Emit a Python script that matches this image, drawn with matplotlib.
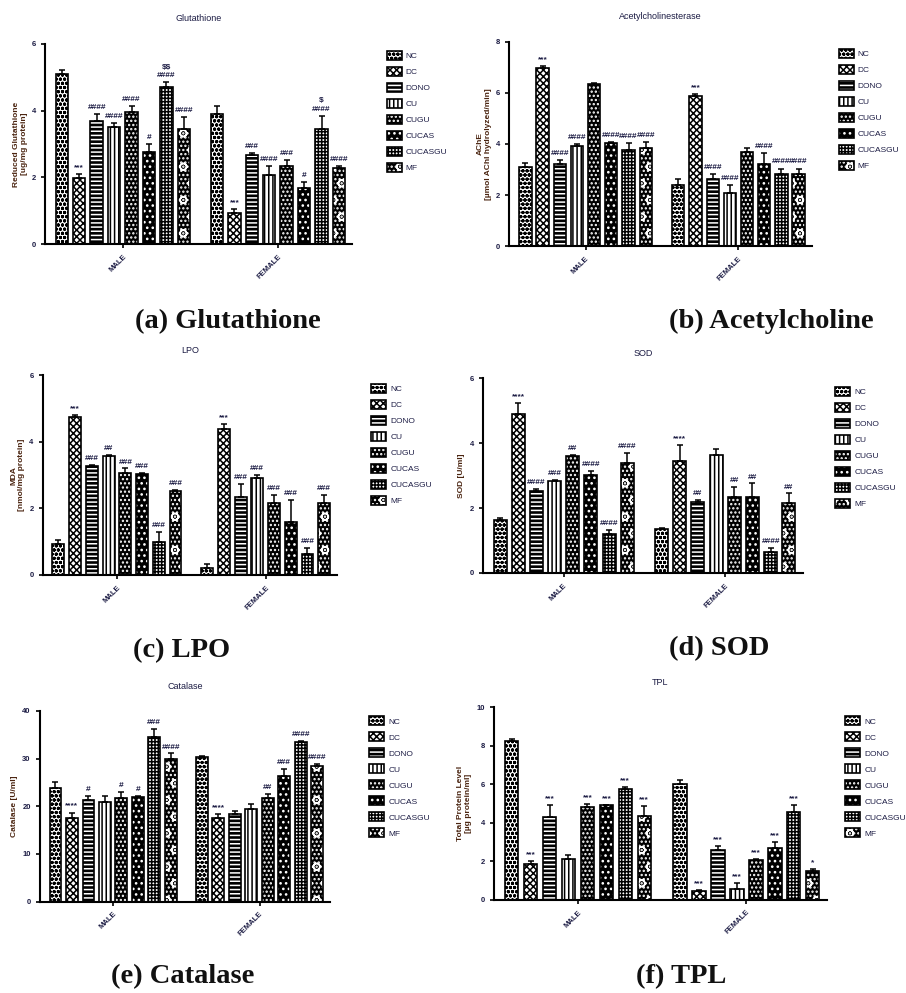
import matplotlib
matplotlib.use('Agg')
from matplotlib import pyplot as plt
from matplotlib.patches import Patch

groups = ['NC', 'DC', 'DONO', 'CU', 'CUGU', 'CUCAS', 'CUCASGU', 'MF']
sexes = ['MALE', 'FEMALE']

# (a) Glutathione
gsh_male = [5.1, 1.97, 3.7, 3.52, 3.95, 2.77, 4.7, 3.45]
gsh_male_err = [0.12, 0.12, 0.2, 0.12, 0.2, 0.24, 0.15, 0.37]
gsh_female = [3.9, 0.93, 2.66, 2.08, 2.33, 1.67, 3.46, 2.28]
gsh_female_err = [0.23, 0.13, 0.06, 0.25, 0.2, 0.18, 0.39, 0.05]
gsh_male_sig = ['', '***', '####', '####', '####', '#', '$$\n####', '####']
gsh_female_sig = ['', '***', '###', '####', '###', '#', '$\n####', '####']

# (b) Acetylcholinesterase
ache_male = [3.1, 6.99, 3.21, 3.91, 6.33, 4.03, 3.78, 3.85]
ache_male_err = [0.17, 0.05, 0.15, 0.08, 0.07, 0.05, 0.24, 0.23]
ache_female = [2.38, 5.89, 2.64, 2.08, 3.69, 3.21, 2.81, 2.81]
ache_female_err = [0.26, 0.05, 0.17, 0.33, 0.16, 0.42, 0.23, 0.23]
ache_male_sig = ['', '***', '####', '####', '', '####', '####', '####']
ache_female_sig = ['', '***', '####', '####', '', '####', '####', '####']

# (c) LPO
lpo_male = [0.93, 4.75, 3.27, 3.57, 3.07, 3.02, 1.0, 2.52]
lpo_male_err = [0.12, 0.05, 0.04, 0.05, 0.13, 0.05, 0.3, 0.03]
lpo_female = [0.2, 4.4, 2.33, 2.9, 2.15, 1.58, 0.63, 2.15]
lpo_female_err = [0.13, 0.13, 0.39, 0.1, 0.25, 0.67, 0.17, 0.25]
lpo_male_sig = ['', '***', '###', '##', '###', '###', '###', '###']
lpo_female_sig = ['', '***', '###', '###', '###', '###', '###', '###']

# (d) SOD
sod_male = [1.64, 4.89, 2.53, 2.83, 3.6, 3.02, 1.2, 3.39]
sod_male_err = [0.05, 0.36, 0.05, 0.04, 0.04, 0.12, 0.13, 0.31]
sod_female = [1.35, 3.46, 2.2, 3.63, 2.33, 2.33, 0.64, 2.15]
sod_female_err = [0.03, 0.48, 0.05, 0.2, 0.33, 0.43, 0.13, 0.3]
sod_male_sig = ['', '****', '####', '###', '##', '####', '####', '####']
sod_female_sig = ['', '****', '##', '', '##', '##', '####', '##']

# (e) Catalase
cat_male = [23.9, 17.5, 21.3, 21.0, 21.7, 21.9, 34.5, 29.9]
cat_male_err = [1.3, 1.2, 0.9, 1.2, 1.4, 0.3, 1.7, 1.2]
cat_female = [30.3, 17.6, 18.3, 19.4, 21.7, 26.4, 33.4, 28.5]
cat_female_err = [0.3, 0.8, 0.8, 1.1, 0.9, 1.4, 0.3, 0.4]
cat_male_sig = ['', '****', '#', '', '#', '#', '###', '####']
cat_female_sig = ['', '****', '', '', '##', '###', '####', '####']

# (f) TPL
tpl_male = [8.25, 1.85, 4.27, 2.13, 4.79, 4.9, 5.76, 4.36]
tpl_male_err = [0.09, 0.17, 0.63, 0.21, 0.19, 0.03, 0.07, 0.52]
tpl_female = [6.02, 0.47, 2.56, 0.55, 2.08, 2.68, 4.55, 1.5]
tpl_female_err = [0.21, 0.05, 0.21, 0.32, 0.05, 0.3, 0.35, 0.09]
tpl_male_sig = ['', '***', '***', '', '***', '***', '***', '***']
tpl_female_sig = ['', '***', '***', '***', '***', '***', '***', '*']

# fill / hatch per group
styles = [('white', 'oooo'), ('white', 'xxxxx'), ('black', '----'), ('white', '||||'),
          ('black', '....'), ('black', '...'), ('white', '+++++'), ('black', 'o....')]

plt.rcParams['font.family'] = ['Liberation Sans', 'DejaVu Sans']
plt.rcParams['hatch.linewidth'] = 1.1
plt.rcParams['text.parse_math'] = False

fig = plt.figure(figsize=(9.06, 9.93), dpi=100)

panels = [
    dict(rect=[0.050, 0.754, 0.339, 0.202], title='Glutathione',
         ylabel='Reduced Glutathione\n[ug/mg protein]', ymax=6, step=2,
         data=(gsh_male, gsh_male_err, gsh_female, gsh_female_err, gsh_male_sig, gsh_female_sig),
         leg=(0.423, 0.952), cap='(a) Glutathione', capxy=(0.252, 0.670)),
    dict(rect=[0.562, 0.752, 0.334, 0.206], title='Acetylcholinesterase',
         ylabel='AChE\n[µmol AChI hydrolyzed/min]', ymax=8, step=2,
         data=(ache_male, ache_male_err, ache_female, ache_female_err, ache_male_sig, ache_female_sig),
         leg=(0.922, 0.954), cap='(b) Acetylcholine', capxy=(0.851, 0.670)),
    dict(rect=[0.047, 0.421, 0.325, 0.201], title='LPO',
         ylabel='MDA\n[nmol/mg protein]', ymax=6, step=2,
         data=(lpo_male, lpo_male_err, lpo_female, lpo_female_err, lpo_male_sig, lpo_female_sig),
         leg=(0.406, 0.617), cap='(c) LPO', capxy=(0.200, 0.338)),
    dict(rect=[0.533, 0.423, 0.353, 0.196], title='SOD',
         ylabel='SOD [U/ml]', ymax=6, step=2,
         data=(sod_male, sod_male_err, sod_female, sod_female_err, sod_male_sig, sod_female_sig),
         leg=(0.918, 0.614), cap='(d) SOD', capxy=(0.794, 0.340)),
    dict(rect=[0.044, 0.092, 0.320, 0.192], title='Catalase',
         ylabel='Catalase [U/ml]', ymax=40, step=10,
         data=(cat_male, cat_male_err, cat_female, cat_female_err, cat_male_sig, cat_female_sig),
         leg=(0.404, 0.282), cap='(e) Catalase', capxy=(0.202, 0.010)),
    dict(rect=[0.545, 0.094, 0.368, 0.194], title='TPL',
         ylabel='Total Protein Level\n[µg protein/ml]', ymax=10, step=2,
         data=(tpl_male, tpl_male_err, tpl_female, tpl_female_err, tpl_male_sig, tpl_female_sig),
         leg=(0.929, 0.282), cap='(f) TPL', capxy=(0.752, 0.010)),
]

slot = 0.1125
bw = 0.08
navy = '#1c1c44'


def bar_handle(face, hatch):
    if face == 'black':
        return (Patch(facecolor='black', edgecolor='white', hatch=hatch, linewidth=0),
                Patch(fill=False, edgecolor='black', linewidth=1.2))
    return Patch(facecolor='white', edgecolor='black', hatch=hatch, linewidth=1.2)


for p in panels:
    ax = fig.add_axes(p['rect'])
    male, male_err, female, female_err, msig, fsig = p['data']
    for gi, (vals, errs, sigs) in enumerate([(male, male_err, msig), (female, female_err, fsig)]):
        for i in range(len(groups)):
            x = gi + (i - 3.5) * slot
            face, hatch = styles[i]
            if face == 'black':
                ax.bar(x, vals[i], bw, color='black', edgecolor='white', hatch=hatch, linewidth=0)
                ax.bar(x, vals[i], bw, fill=False, edgecolor='black', linewidth=1.2)
            else:
                ax.bar(x, vals[i], bw, color='white', edgecolor='black', hatch=hatch, linewidth=1.2)
            ax.errorbar(x, vals[i], yerr=[[0], [errs[i]]], color='black', capsize=2.2,
                        elinewidth=1.1, capthick=1.1)
            if sigs[i]:
                ax.text(x, vals[i] + errs[i] + p['ymax'] * 0.015, sigs[i], ha='center', va='bottom',
                        fontsize=6, fontweight='bold', color=navy, linespacing=1.3)
    ax.set_xlim(-0.5, 1.48)
    ax.set_ylim(0, p['ymax'])
    ax.set_yticks(range(0, p['ymax'] + 1, p['step']))
    ax.set_xticks([0, 1])
    ax.set_xticklabels(sexes, rotation=45, ha='right', rotation_mode='anchor',
                       fontsize=5.5, fontweight='bold', color=navy)
    ax.tick_params(axis='y', labelsize=5.5, colors='black', length=3, width=1.2)
    ax.tick_params(axis='x', length=3, width=1.2)
    for lbl in ax.get_yticklabels():
        lbl.set_fontweight('bold')
        lbl.set_color(navy)
    for s in ['top', 'right']:
        ax.spines[s].set_visible(False)
    for s in ['left', 'bottom']:
        ax.spines[s].set_linewidth(1.5)
    ax.set_ylabel(p['ylabel'], fontsize=6, fontweight='bold', color='#4a2410', labelpad=3)
    ax.set_title(p['title'], fontsize=6.5, color=navy, pad=16)

    handles = [bar_handle(*styles[i]) for i in range(len(groups))]
    fig.legend(handles=handles, labels=groups, loc='upper left', bbox_to_anchor=p['leg'],
               frameon=False, fontsize=6, handlelength=1.8, handleheight=1.3, labelspacing=0.8,
               handletextpad=0.5, borderaxespad=0, labelcolor=navy)

    fig.text(p['capxy'][0], p['capxy'][1], p['cap'], ha='center', va='baseline',
             fontsize=20.5, fontweight='bold', family=['Liberation Serif', 'DejaVu Serif'],
             color='#111111')

fig.savefig('out.png', dpi=100)
